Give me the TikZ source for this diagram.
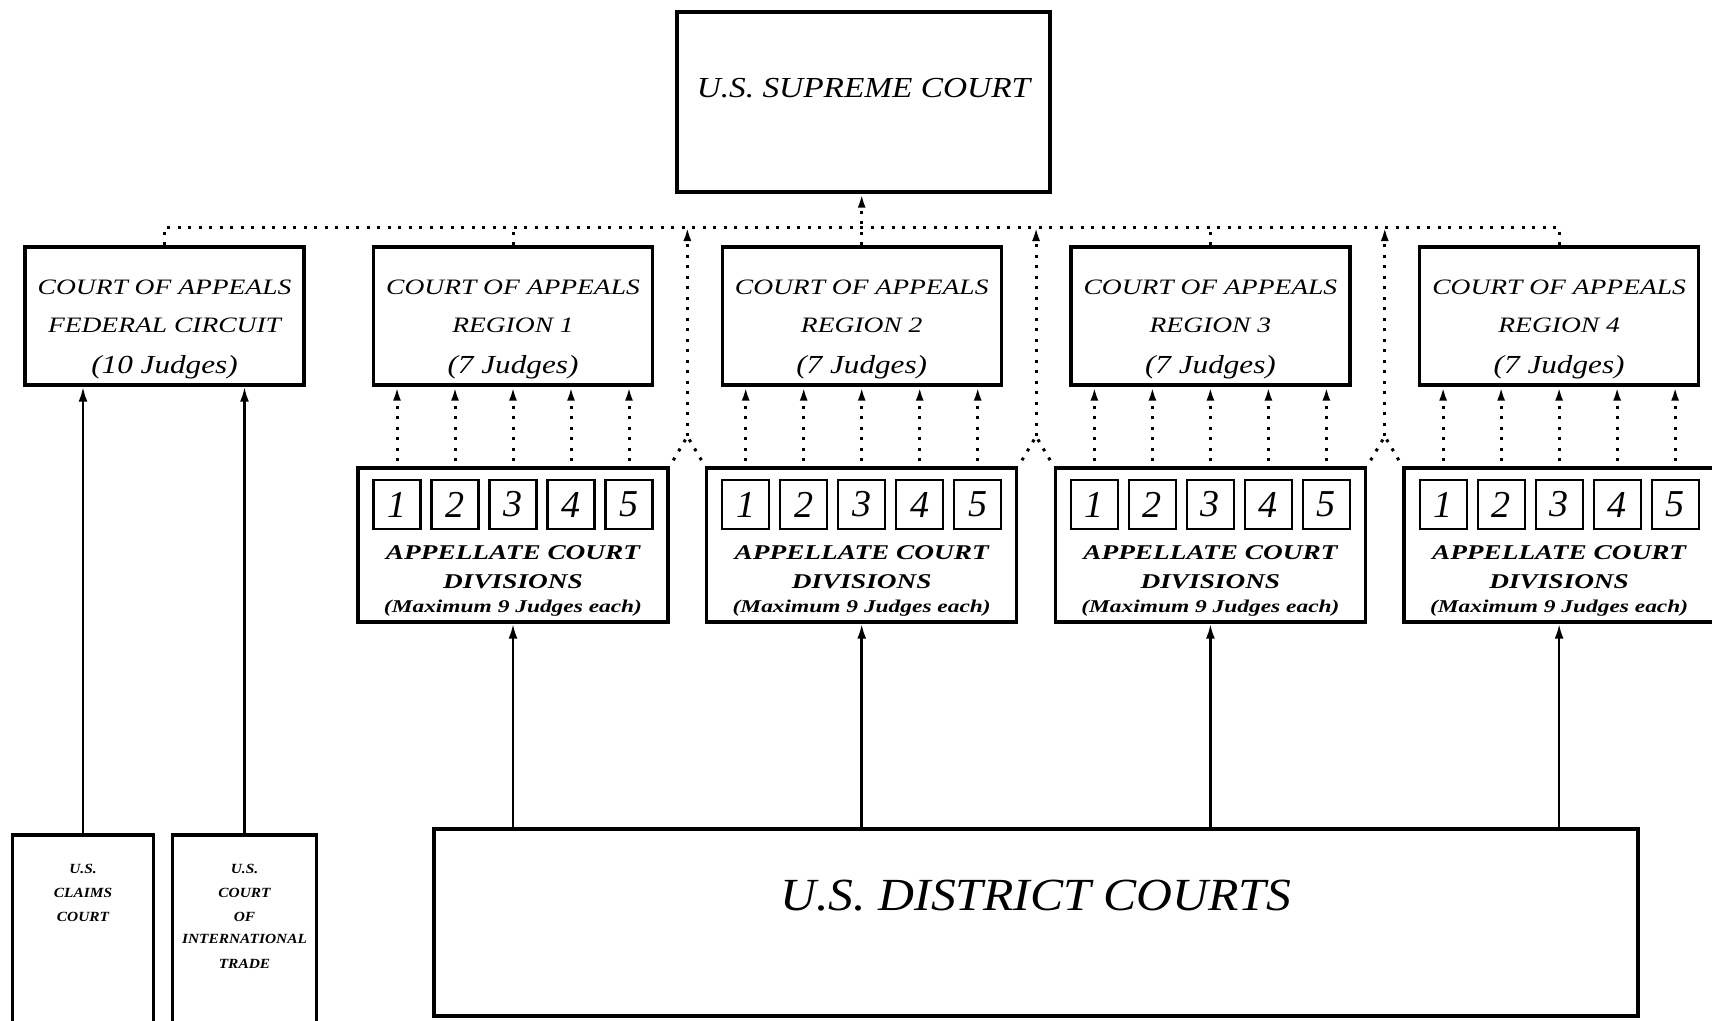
\documentclass[tikz,border=0pt]{standalone}
\usepackage{fontspec}
\setmainfont{Liberation Serif}
\usetikzlibrary{arrows.meta, calc}

\begin{document}
\begin{tikzpicture}[x=1pt, y=-1pt, >={Latex[length=14pt,width=8pt]},
    courtbox/.style={draw, line width=3.4pt, inner sep=0pt},
    numbox/.style={draw, line width=2.2pt, inner sep=0pt, minimum width=47pt, minimum height=49pt,
      font=\fontsize{38}{38}\selectfont\itshape},
    txt/.style={inner sep=0pt, anchor=base},
    capline/.style={txt, xscale=1.25, font=\fontsize{22}{22}\selectfont\itshape},
    judges/.style={txt, xscale=1.2, font=\fontsize{26}{26}\selectfont\itshape},
    divtxt/.style={txt, xscale=1.3, font=\fontsize{21}{21}\selectfont\bfseries\itshape},
    maxtxt/.style={txt, xscale=1.3, font=\fontsize{18}{18}\selectfont\bfseries\itshape},
    smalltxt/.style={txt, xscale=1.1, font=\fontsize{14}{14}\selectfont\bfseries\itshape},
    dotline/.style={line width=3pt, dash pattern=on 3pt off 7.5pt},
    feed/.style={-{Latex[length=15pt,width=9pt]}, line width=2.6pt}]

  \useasboundingbox (0,0) rectangle (1712,1020);

  % Supreme Court
  \node[courtbox, minimum width=373pt, minimum height=180pt] (sup) at (863.5,102) {};
  \node[txt, xscale=1.15, font=\fontsize{29}{29}\selectfont\itshape] (sup-t) at (863.5,97) {U.S. SUPREME COURT};

  % Federal Circuit
  \node[courtbox, minimum width=279pt, minimum height=138pt] (fc) at (164.5,316) {};
  \node[capline] (fc-a) at (164.5,294) {COURT OF APPEALS};
  \node[capline] (fc-b) at (164.5,332) {FEDERAL CIRCUIT};
  \node[judges] (fc-c) at (164.5,373) {(10 Judges)};

  % regions and their divisions
  \foreach \k in {1,...,4} {
    \pgfmathsetmacro\cx{513+348.7*(\k-1)}
    \node[courtbox, minimum width=279pt, minimum height=138pt] (r\k) at (\cx,316) {};
    \node[capline] (r\k-a) at (\cx,294) {COURT OF APPEALS};
    \node[capline] (r\k-b) at (\cx,332) {REGION \k};
    \node[judges] (r\k-c) at (\cx,373) {(7 Judges)};

    \node[courtbox, minimum width=310pt, minimum height=154pt] (d\k) at (\cx,545) {};
    \foreach \j in {1,...,5}
      \node[numbox] (n\k-\j) at (\cx+58*\j-174,504.5) {\j};
    \node[divtxt] (d\k-a) at (\cx,559) {APPELLATE COURT};
    \node[divtxt] (d\k-b) at (\cx,588) {DIVISIONS};
    \node[maxtxt] (d\k-c) at (\cx,612) {(Maximum 9 Judges each)};

    \foreach \j in {1,...,5}
      \draw[dotline, ->, shorten <=5pt] (d\k.north -| n\k-\j) -- (r\k.south -| n\k-\j);
  }

  % dotted bus up to the Supreme Court
  \coordinate (bus) at (0,227);
  \draw[dotline] (fc.north) -- (fc.north |- bus) -- (r4.north |- bus) -- (r4.north);
  \foreach \k in {1,3}
    \draw[dotline] (r\k.north) -- (r\k.north |- bus);
  \draw[dotline, ->] (r2.north) -- (r2.north |- sup.south);

  % divisions straight to the Supreme Court
  \foreach \k [count=\m from 2] in {1,2,3} {
    \coordinate (apx\k) at ($(d\k.north east)!0.5!(d\m.north west) + (0,-30)$);
    \draw[dotline, shorten <=7pt, shorten >=7pt] (d\k.north east) -- (apx\k) -- (d\m.north west);
    \draw[dotline, ->] (apx\k) -- (apx\k |- bus);
  }

  % special courts
  \node[courtbox, minimum width=141pt, minimum height=210pt] (claims) at (83,940) {};
  \node[smalltxt] (claims-a) at (83,873) {U.S.};
  \node[smalltxt] (claims-b) at (83,897) {CLAIMS};
  \node[smalltxt] (claims-c) at (83,921) {COURT};

  \node[courtbox, minimum width=144pt, minimum height=210pt] (cit) at (244.5,940) {};
  \node[smalltxt] (cit-a) at (244.5,873) {U.S.};
  \node[smalltxt] (cit-b) at (244.5,897) {COURT};
  \node[smalltxt] (cit-c) at (244.5,921) {OF};
  \node[smalltxt] (cit-d) at (244.5,943) {INTERNATIONAL};
  \node[smalltxt] (cit-e) at (244.5,968) {TRADE};

  \draw[feed] (claims.north) -- (claims.north |- fc.south);
  \draw[feed] (cit.north) -- (cit.north |- fc.south);

  % District Courts
  \node[courtbox, minimum width=1204pt, minimum height=187pt] (dist) at (1036,922.5) {};
  \node[txt, xscale=1.08, font=\fontsize{46}{46}\selectfont\itshape] (dist-t) at (1036,910) {U.S. DISTRICT COURTS};
  \foreach \k in {1,...,4}
    \draw[feed] (dist.north -| d\k) -- (d\k.south);
\end{tikzpicture}
\end{document}
